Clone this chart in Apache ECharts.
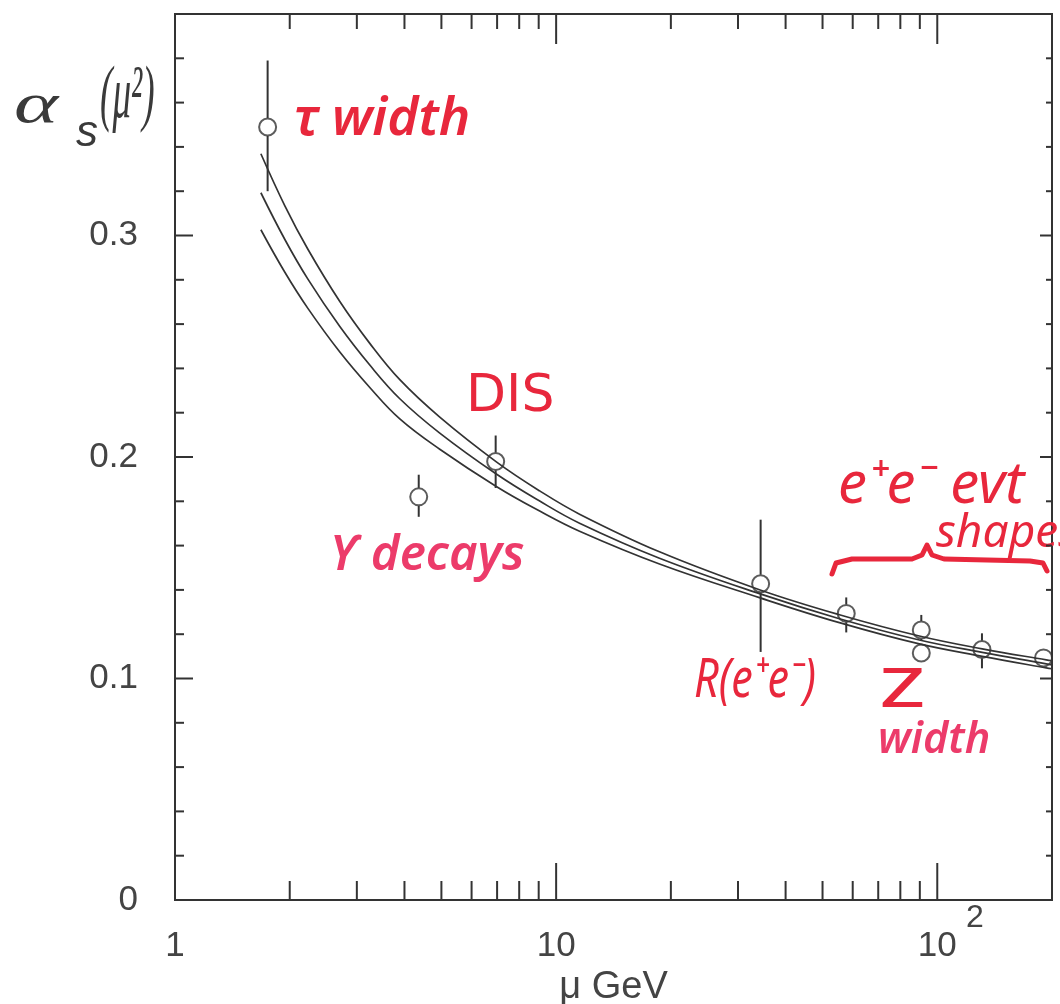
<!DOCTYPE html>
<html><head><meta charset="utf-8">
<script src="https://cdn.jsdelivr.net/npm/echarts/dist/echarts.min.js"></script>
<style>html,body{margin:0;padding:0;background:#fff}#c{width:1060px;height:1004px}</style>
</head><body><div id="c"></div>
<script>
// ---- measurements (mu in GeV, alpha_s) ----
const pointMu    = [1.75, 4.36, 6.94, 34.4, 57.7, 90.8, 90.8, 131, 190];
const pointAlpha = [0.349, 0.182, 0.198, 0.1428, 0.1294, 0.1219, 0.1115, 0.1131, 0.1093];
const errLow     = [0.320, 0.173, 0.186, 0.112, 0.1208, 0.117, NaN, 0.1046, NaN];
const errHigh    = [0.379, 0.192, 0.2097, 0.1717, 0.1366, 0.1287, NaN, 0.1204, NaN];

// ---- running alpha_s band (three curves) ----
const curveMu  = [1.680, 1.942, 2.232, 2.707, 3.244, 3.889, 4.951, 6.983, 9.054, 11.52, 18.67, 34.15, 55.36, 89.72, 131.2, 193.1, 200];
const topAlpha = [0.3369, 0.3134, 0.2938, 0.2702, 0.2513, 0.2349, 0.2180, 0.1977, 0.1847, 0.1742, 0.1572, 0.1401, 0.1288, 0.1192, 0.1134, 0.1084, 0.1080];
const midAlpha = [0.3193, 0.2982, 0.2803, 0.2589, 0.2415, 0.2263, 0.2108, 0.1922, 0.1801, 0.1701, 0.1543, 0.1383, 0.1270, 0.1174, 0.1118, 0.1066, 0.1061];
const lowAlpha = [0.3026, 0.2834, 0.2671, 0.2474, 0.2314, 0.2172, 0.2035, 0.1866, 0.1756, 0.1665, 0.1517, 0.1365, 0.1252, 0.1156, 0.1100, 0.1048, 0.1044];

// ---- axis ticks ----
const xMinorTicks = [2,3,4,5,6,7,8,9,20,30,40,50,60,70,80,90];
const xMajorTicks = [10,100];
const yTicks = [0.02,0.04,0.06,0.08,0.1,0.12,0.14,0.16,0.18,0.2,0.22,0.24,0.26,0.28,0.3,0.32,0.34,0.36,0.38];
const yMajorTicks = [0.1,0.2,0.3];
const xLabels = {1:'1', 10:'10', 100:'10'};

const INK = '#333';
const RED = '#e8273c';
const PINK = '#ec3b6a';

const chart = echarts.init(document.getElementById('c'), null, {renderer:'canvas'});

const curve = (mu, a) => ({
  type:'line', data: mu.map((m,i)=>[m,a[i]]), showSymbol:false, smooth:0.4,
  lineStyle:{color:INK, width:1.7}, silent:true, z:2
});

const xTickData = xMinorTicks.map(v=>[v,0.2,0]).concat(xMajorTicks.map(v=>[v,0.2,1]));
const yTickData = yTicks.map(v=>[1,v, yMajorTicks.some(m=>Math.abs(m-v)<1e-9)?1:0]);

const option = {
  backgroundColor:'#fff',
  animation:false,
  grid:{left:175, right:8, top:14, bottom:104, show:true, borderColor:INK, borderWidth:2,
        backgroundColor:'transparent', containLabel:false, outerBoundsMode:'none'},
  xAxis:{
    type:'log', logBase:10, min:1, max:200,
    axisLine:{show:false}, axisTick:{show:false}, splitLine:{show:false}, minorTick:{show:false},
    axisLabel:{
      formatter:(v)=> xLabels[Math.round(v)] !== undefined && Math.abs(v-Math.round(v))<1e-6 ? xLabels[Math.round(v)] : '',
      fontFamily:'Liberation Sans', fontSize:35, color:'#444', margin:29, showMaxLabel:false
    },
    name:'μ GeV', nameLocation:'middle', nameGap:63,
    nameTextStyle:{fontFamily:'Liberation Sans', fontSize:38, color:'#444'}
  },
  yAxis:{
    type:'value', min:0, max:0.4, interval:0.1,
    axisLine:{show:false}, axisTick:{show:false}, splitLine:{show:false},
    axisLabel:{
      formatter:(v)=> v===0 ? '0' : (v>0.35 ? '' : v.toFixed(1)),
      fontFamily:'Liberation Sans', fontSize:35, color:'#444', margin:37
    }
  },
  series:[
    {
      type:'custom', data:xTickData, encode:{x:0,y:1}, silent:true, z:5,
      renderItem:(params, api)=>{
        const v = api.value(0), major = api.value(2);
        const b = api.coord([v,0]), t = api.coord([v,0.4]);
        return {type:'group', children:[
          {type:'line', shape:{x1:b[0],y1:b[1],x2:b[0],y2:b[1]-(major?37:19)}, style:{stroke:INK, lineWidth:2}},
          {type:'line', shape:{x1:t[0],y1:t[1],x2:t[0],y2:t[1]+(major?30:15)}, style:{stroke:INK, lineWidth:2}}
        ]};
      }
    },
    {
      type:'custom', data:yTickData, encode:{x:0,y:1}, silent:true, z:5,
      renderItem:(params, api)=>{
        const v = api.value(1), major = api.value(2);
        const l = api.coord([1,v]), r = api.coord([200,v]);
        return {type:'group', children:[
          {type:'line', shape:{x1:l[0],y1:l[1],x2:l[0]+(major?18:9),y2:l[1]}, style:{stroke:INK, lineWidth:2}},
          {type:'line', shape:{x1:r[0],y1:r[1],x2:r[0]-(major?12:6),y2:r[1]}, style:{stroke:INK, lineWidth:2}}
        ]};
      }
    },
    curve(curveMu, topAlpha),
    curve(curveMu, midAlpha),
    curve(curveMu, lowAlpha),
    {
      type:'custom', silent:true, z:3,
      data: pointMu.map((m,i)=>[m, pointAlpha[i], errLow[i], errHigh[i]]),
      encode:{x:0,y:1},
      renderItem:(params, api)=>{
        const m = api.value(0), c = api.value(1), lo = api.value(2), hi = api.value(3);
        const kids = [];
        const pc = api.coord([m,c]);
        const r = 9;
        if (!isNaN(hi)) { const ph = api.coord([m,hi]); kids.push({type:'line', shape:{x1:pc[0],y1:ph[1],x2:pc[0],y2:pc[1]-r}, style:{stroke:INK,lineWidth:2}}); }
        if (!isNaN(lo)) { const pl = api.coord([m,lo]); kids.push({type:'line', shape:{x1:pc[0],y1:pc[1]+r,x2:pc[0],y2:pl[1]}, style:{stroke:INK,lineWidth:2}}); }
        return {type:'group', children:kids};
      }
    },
    {
      type:'scatter', data: pointMu.map((m,i)=>[m,pointAlpha[i]]),
      symbol:'circle', symbolSize:17, silent:true, z:4,
      itemStyle:{color:'rgba(255,255,255,0)', borderColor:INK, borderWidth:2}
    }
  ]
};
chart.setOption(option);

const hand = 'Noto Sans';
chart.setOption({graphic:[
  {type:'text', x:966, y:902, style:{text:'2', font:'32px "Liberation Sans"', fill:'#444'}},
  // y-axis title alpha_s(mu^2)
  {type:'text', x:14, y:78, scaleX:1.45, style:{text:'α', font:'italic 58px "Liberation Serif"', fill:'#3a3a3a'}},
  {type:'text', x:76, y:112, style:{text:'s', font:'italic 44px "Liberation Sans"', fill:'#3a3a3a'}},
  {type:'text', x:100, y:60, scaleX:0.62, scaleY:1.25, style:{text:'(μ²)', font:'italic 60px "Liberation Serif"', fill:'#3a3a3a'}},
  // handwritten labels
  {type:'text', x:294, y:120, style:{text:'τ width', font:'italic 600 53px "'+hand+'"', fill:RED, textVerticalAlign:'middle'}},
  {type:'text', x:466, y:397, style:{text:'DIS', font:'52px "DejaVu Sans"', fill:RED, textVerticalAlign:'middle'}},
  {type:'text', x:330, y:556, style:{text:'ϒ decays', font:'italic 600 49px "'+hand+'"', fill:PINK, textVerticalAlign:'middle'}},
  {type:'text', x:694, y:682, scaleX:0.8, style:{text:'R(e⁺e⁻)', font:'italic 54px "'+hand+'"', fill:RED, textVerticalAlign:'middle'}},
  {type:'text', x:880, y:692, scaleX:1.45, style:{text:'Z', font:'500 54px "'+hand+'"', fill:RED, textVerticalAlign:'middle'}},
  {type:'text', x:878, y:741, style:{text:'width', font:'italic 600 43px "'+hand+'"', fill:PINK, textVerticalAlign:'middle'}},
  {type:'text', x:838, y:486, style:{text:'e⁺e⁻ evt', font:'italic 58px "'+hand+'"', fill:RED, textVerticalAlign:'middle'}},
  {type:'text', x:936, y:534, style:{text:'shapes', font:'italic 46px "'+hand+'"', fill:RED, textVerticalAlign:'middle'}},
  {type:'polyline', shape:{points:[[832,574],[836,563],[852,559],[912,559],[922,555],[927,545],[932,555],[944,559],[1030,561],[1043,563],[1047,571]]},
   style:{stroke:RED, lineWidth:5, fill:null, lineCap:'round', lineJoin:'round'}}
]});
</script>
</body></html>
